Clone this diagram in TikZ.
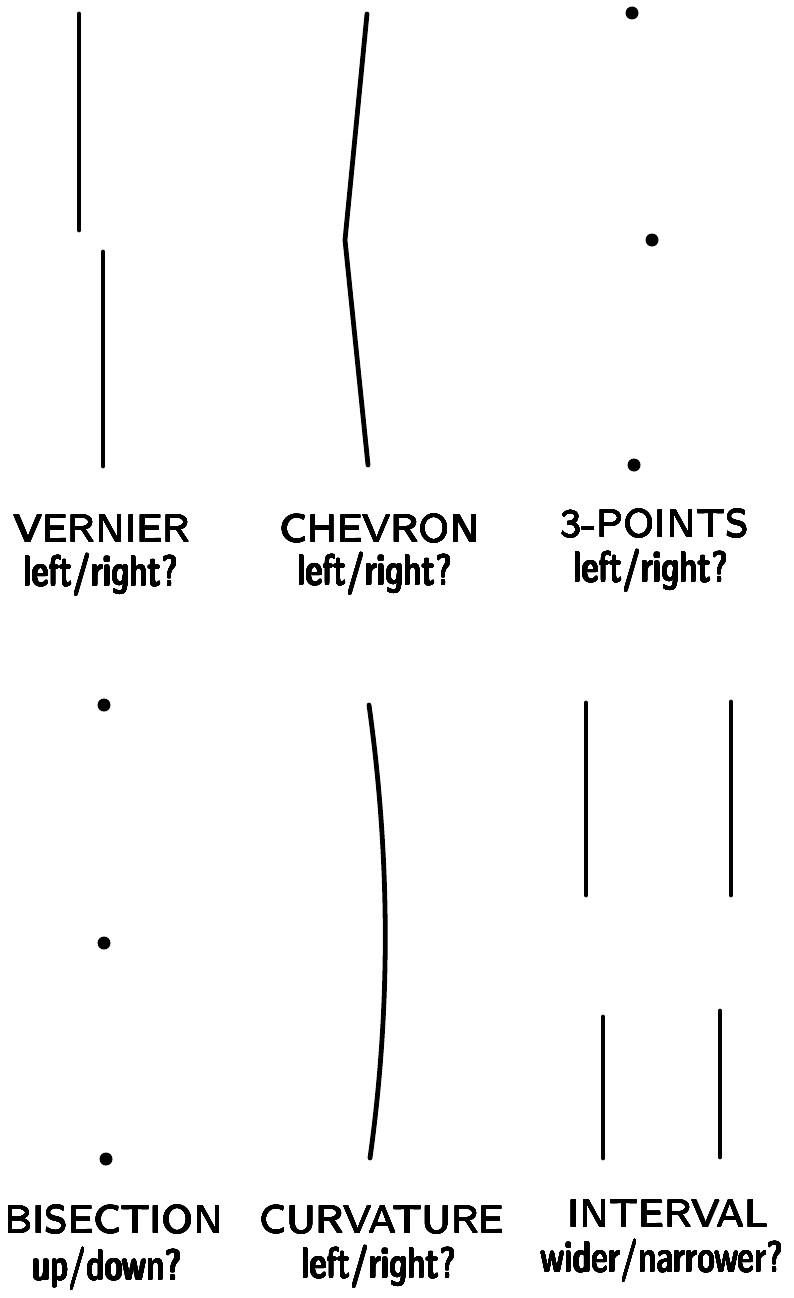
\documentclass[tikz,border=0pt]{standalone}
\usepackage{graphicx}
\usepackage{contour}
\contournumber{24}
% titles: sans at a small design size, enlarged and slightly emboldened
\newcommand\ttl[1]{\scalebox{5.0}[4.85]{\fontsize{8}{10}\sffamily\selectfont\contourlength{0.035pt}\contour{black}{#1}}}
% questions: demi condensed sans, emboldened a little more
\newcommand\qst[1]{\scalebox{3.8}[4.3]{\fontsize{10}{12}\sffamily\fontseries{sbc}\selectfont\contourlength{0.06pt}\contour{black}{#1}}}
\begin{document}
\begin{tikzpicture}[x=1pt,y=-1pt,
  stim/.style={line width=4.8pt,line cap=round,line join=round},
  dot/.style={circle,fill=black,inner sep=0pt,minimum size=13pt},
  title/.style={anchor=base,inner sep=0pt},
  question/.style={anchor=base,inner sep=0pt}]
\useasboundingbox[fill=white] (0,0) rectangle (794,1298);

% Vernier: two offset vertical segments
\coordinate (v1) at (79,14);  \coordinate (v2) at (79,230);
\coordinate (v3) at (103,252); \coordinate (v4) at (103,466);
\draw[stim] (v1) -- (v2);
\draw[stim] (v3) -- (v4);

% Chevron: bent line
\coordinate (c1) at (367,14); \coordinate (c2) at (345,240); \coordinate (c3) at (368,465);
\draw[stim] (c1) -- (c2) -- (c3);

% Three points
\node[dot] (p1) at (632,13) {};
\node[dot] (p2) at (652,240) {};
\node[dot] (p3) at (634,465) {};

% Bisection
\node[dot] (b1) at (104,705) {};
\node[dot] (b2) at (104,943) {};
\node[dot] (b3) at (106,1159) {};

% Curvature
\coordinate (k1) at (369,705); \coordinate (k2) at (370,1158);
\draw[stim] (k1) .. controls (390.3,858) and (390.7,1009) .. (k2);

% Interval: two pairs of vertical segments
\coordinate (i1) at (586,703); \coordinate (i2) at (586,895);
\coordinate (i3) at (731,702); \coordinate (i4) at (731,895);
\coordinate (i5) at (603,1017); \coordinate (i6) at (603,1158);
\coordinate (i7) at (720,1011); \coordinate (i8) at (720,1157);
\draw[stim] (i1) -- (i2);
\draw[stim] (i3) -- (i4);
\draw[stim] (i5) -- (i6);
\draw[stim] (i7) -- (i8);

% Labels
\node[title] (tv) at (102,542) {\ttl{VERNIER}};
\node[question] (qv) at (101,586) {\qst{left/right?}};
\node[title] (tc) at (380,542) {\ttl{CHEVRON}};
\node[question] (qc) at (375,585) {\qst{left/right?}};
\node[title] (tp) at (655,537) {\ttl{3-POINTS}};
\node[question] (qp) at (651,582) {\qst{left/right?}};
\node[title] (tb) at (114,1233) {\ttl{BISECTION}};
\node[question] (qb) at (107,1280) {\qst{up/down?}};
\node[title] (tk) at (382,1233) {\ttl{CURVATURE}};
\node[question] (qk) at (379,1278) {\qst{left/right?}};
\node[title] (ti) at (668,1227) {\ttl{INTERVAL}};
\node[question] (qi) at (662,1272) {\qst{wider/narrower?}};
\end{tikzpicture}
\end{document}
